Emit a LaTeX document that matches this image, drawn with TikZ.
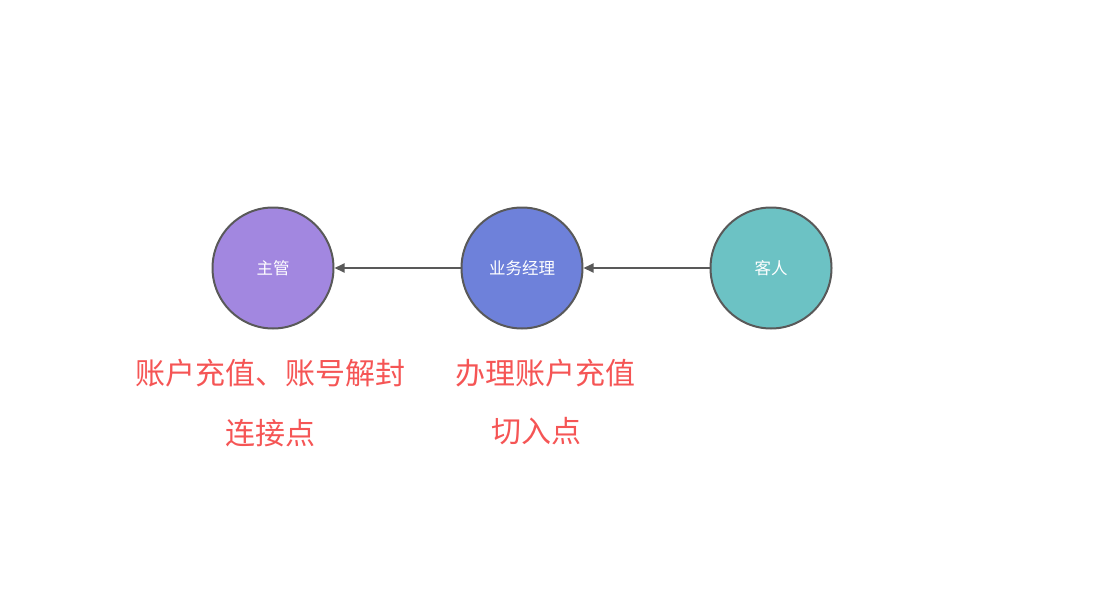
\documentclass[tikz,border=0pt]{standalone}
\usepackage{fontspec}
\setmainfont{Noto Sans CJK SC}
\newfontfamily\cjk{Noto Sans CJK SC}
\usetikzlibrary{arrows.meta}
\definecolor{cpurple}{HTML}{A287E0}
\definecolor{cblue}{HTML}{6E81DA}
\definecolor{cteal}{HTML}{6CC2C4}
\definecolor{cstroke}{HTML}{595959}
\definecolor{cred}{HTML}{F55555}
\begin{document}
\begin{tikzpicture}[x=1pt,y=-1pt,
  role/.style={circle,draw=cstroke,line width=2pt,minimum size=121pt,inner sep=0pt,text=white,font=\cjk\fontsize{16.5}{19}\selectfont},
  link/.style={draw=cstroke,line width=2pt,-{Triangle[length=10pt,width=9pt]}},
  note/.style={text=cred,font=\cjk\fontsize{30}{35}\selectfont,inner sep=0pt}]
\useasboundingbox (0,0) rectangle (1101,594);
\node[role,fill=cpurple] (boss) at (273,268) {主管};
\node[role,fill=cblue] (mgr) at (522,268) {业务经理};
\node[role,fill=cteal] (guest) at (771,268) {客人};
\draw[link] (mgr) -- (boss);
\draw[link] (guest) -- (mgr);
\node[note] (t1) at (270,373) {账户充值、账号解封};
\node[note] (t2) at (270,433) {连接点};
\node[note] (t3) at (545,373) {办理账户充值};
\node[note] (t4) at (536,431) {切入点};
\end{tikzpicture}
\end{document}
